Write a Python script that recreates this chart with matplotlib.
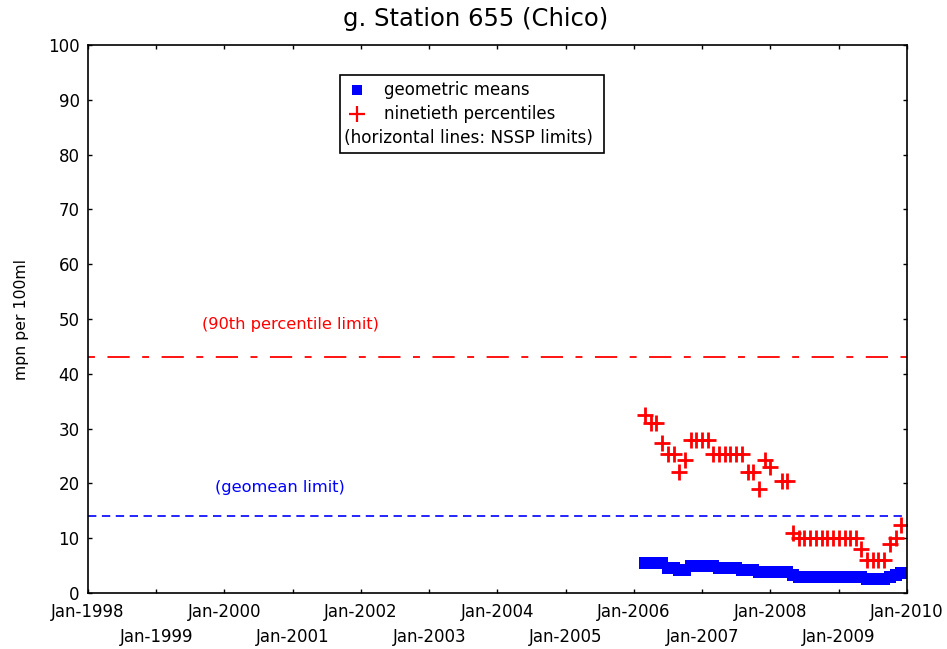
import matplotlib
matplotlib.use('Agg')
import matplotlib.pyplot as plt
import numpy as np
import pandas as pd

plt.rcParams['font.family'] = ['DejaVu Sans']
plt.rcParams['lines.scale_dashes'] = False

## data (monthly, Mar-2006 .. Dec-2009)
months = pd.date_range('2006-03-01', '2009-12-01', freq='MS')
geomean = [5.4, 5.4, 5.4, 5.4, 4.6, 4.6, 4.2, 4.2, 4.9, 4.9,
           4.9, 4.9, 4.9, 4.5, 4.5, 4.5, 4.5, 4.2, 4.2, 4.2, 3.9, 3.9,
           3.9, 3.9, 3.9, 3.9, 3.3, 2.9, 2.9, 2.9, 2.9, 2.9, 2.9, 2.9,
           2.9, 2.9, 2.9, 2.9, 2.9, 2.5, 2.5, 2.5, 2.5, 3.0, 3.3, 3.6]
p90 = [32.5, 31, 31, 27.3, 25.4, 25.4, 22, 24.3, 28, 28,
       28, 28, 25.4, 25.4, 25.4, 25.4, 25.4, 25.4, 22, 22, 19, 24.3,
       23, np.nan, 20.5, 20.5, 11, 10, 10, 10, 10, 10, 10, 10,
       10, 10, 10, 10, 8, 6, 6, 6, 6, 9, 10, 12.5]

geomean_limit = 14
p90_limit = 43
tick_years = list(range(1998, 2011))
tick_labels = [('' if y % 2 == 0 else '\n') + f'Jan-{y}' for y in tick_years]

fig = plt.figure(figsize=(9.47, 6.49), dpi=100)
ax = fig.add_axes([88/947, 56/649, 819/947, 548/649])

## limit lines
ax.axhline(p90_limit, color='red', lw=1.3, dashes=(5, 9, 16, 9), dash_capstyle='butt')
ax.axhline(geomean_limit, color='blue', lw=1.2, dashes=(6, 4))
ax.text(pd.Timestamp('2000-12-20'), 49, '(90th percentile limit)', color='red',
        ha='center', va='center', fontsize=11.7)
ax.text(pd.Timestamp('2000-10-25'), 19.2, '(geomean limit)', color='blue',
        ha='center', va='center', fontsize=11.7)

## series
ax.plot(months, geomean, 's', color='blue', ms=8.5, mew=0)
ax.plot(months, p90, '+', color='red', ms=11.5, mew=2)

## axes
ax.set_xlim(pd.Timestamp('1998-01-01'), pd.Timestamp('2010-01-01'))
ax.set_ylim(0, 100)
ax.set_yticks(range(0, 101, 10))
ax.set_xticks([pd.Timestamp(f'{y}-01-01') for y in tick_years])
ax.set_xticklabels(tick_labels, fontsize=12, linespacing=1.55)
ax.tick_params(axis='y', labelsize=12, pad=6)
ax.tick_params(direction='in', length=3, width=1, top=True, right=True)
ax.tick_params(axis='x', pad=7)
for s in ax.spines.values():
    s.set_linewidth(1.2)
ax.set_ylabel('mpn per 100ml', fontsize=11.3, labelpad=14)
ax.set_title('g. Station 655 (Chico)', fontsize=17.5, pad=14, x=0.473)

## legend box drawn by hand
tr = ax.transAxes
ax.add_patch(plt.Rectangle((0.308, 0.803), 0.322, 0.142, transform=tr,
                           fill=False, lw=1.2, ec='black', clip_on=False))
ax.plot([0.328], [0.918], 's', color='blue', ms=7, mew=0, transform=tr)
ax.plot([0.328], [0.874], '+', color='red', ms=11, mew=1.6, transform=tr)
ax.text(0.362, 0.918, 'geometric means', transform=tr, va='center', fontsize=12)
ax.text(0.362, 0.874, 'ninetieth percentiles', transform=tr, va='center', fontsize=12)
ax.text(0.312, 0.830, '(horizontal lines: NSSP limits)', transform=tr, va='center', fontsize=12.2)

fig.savefig('out.png', dpi=100)
